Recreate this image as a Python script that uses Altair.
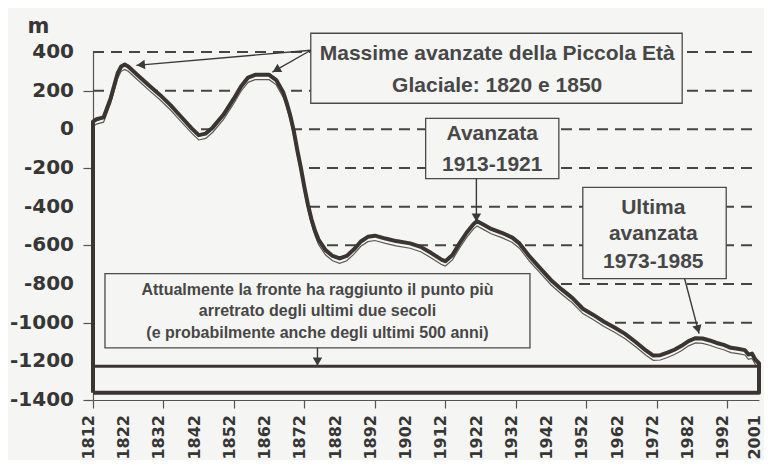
import math
import altair as alt
import pandas as pd

# ---- data ----
years = [1812, 1813, 1815, 1817, 1819, 1820, 1821, 1822, 1825, 1828, 1831, 1834,
         1837, 1840, 1842, 1844, 1846, 1849, 1852, 1854, 1856, 1858, 1862, 1864,
         1866, 1867, 1868, 1869, 1870, 1871, 1872, 1873, 1874, 1875, 1876, 1878,
         1880, 1882, 1884, 1886, 1888, 1890, 1892, 1895, 1898, 1902, 1905, 1908,
         1911, 1912, 1914, 1916, 1918, 1920, 1921, 1923, 1925, 1928, 1931, 1933,
         1936, 1939, 1942, 1945, 1948, 1951, 1954, 1957, 1960, 1963, 1966, 1969,
         1971, 1973, 1975, 1977, 1979, 1981, 1983, 1985, 1987, 1989, 1991, 1993,
         1995, 1997, 1998, 1999, 2000, 2001]
front = [40, 52, 62, 160, 290, 325, 335, 325, 275, 225, 178, 125,
         65, 5, -30, -22, 10, 75, 160, 222, 268, 282, 282, 255,
         190, 135, 70, -10, -110, -200, -300, -390, -465, -525, -570, -625,
         -655, -668, -655, -622, -580, -556, -550, -565, -578, -590, -608, -640,
         -675, -682, -650, -590, -535, -490, -475, -495, -515, -535, -560, -590,
         -660, -720, -780, -828, -872, -928, -960, -995, -1025, -1058, -1100, -1145,
         -1170, -1168, -1155, -1140, -1120, -1095, -1080, -1082, -1092, -1105, -1115, -1130,
         -1135, -1142, -1165, -1160, -1192, -1210]
assert len(years) == len(front)

current_front = -1225
bottom_edge = -1362
first_year, last_year = 1812, 2001

grid_levels = [400, 200, 0, -200, -400, -600, -800, -1000]
y_ticks = list(range(-1400, 401, 200))
x_ticks = list(range(1812, 2001, 5)) + [2001]
x_label_years = list(range(1812, 2001, 10)) + [2001]

box_x1 = [1873.8, 1906.4, 1951.0, 1815.4]
box_x2 = [1979.2, 1944.2, 1991.7, 1936.0]
box_y1 = [497, 57, -300, -746]
box_y2 = [135, -255, -772, -1130]

label_text = ["Massime avanzate della Piccola Età", "Glaciale: 1820 e 1850",
              "Avanzata", "1913-1921",
              "Ultima", "avanzata", "1973-1985",
              "Attualmente la fronte ha raggiunto il punto più",
              "arretrato degli ultimi due secoli",
              "(e probabilmente anche degli ultimi 500 anni)"]
label_x = [1926.7, 1926.7, 1925.3, 1925.3, 1971.0, 1971.0, 1971.0, 1875.7, 1875.7, 1875.7]
label_y = [390, 222, -23, -187, -407, -541, -686, -829, -938, -1052]
label_size = [21, 21, 21, 21, 21, 21, 21, 16, 16, 16]

arrow_x1 = [1873.8, 1873.8, 1920.8, 1979.9, 1875.7]
arrow_y1 = [409, 409, -255, -773, -1130]
arrow_x2 = [1824.3, 1862.9, 1920.8, 1984.0, 1875.7]
arrow_y2 = [331, 296, -480, -1057, -1225]

# ---- tables ----
W, H = 666, 348
px_year = W / (last_year - first_year)
px_m = H / 1800

curve = pd.DataFrame({"year": years, "value": front})
curve["base"] = current_front
curve["shadow"] = curve["value"] - 25

outline_years = [first_year] + years + [last_year, first_year]
outline_vals = [bottom_edge] + front + [bottom_edge, bottom_edge]
outline = pd.DataFrame({"year": outline_years, "value": outline_vals,
                        "order": list(range(len(outline_years)))})

grid = pd.DataFrame({"value": grid_levels, "year": first_year, "year2": last_year})
front_rule = pd.DataFrame({"value": [current_front], "year": [first_year], "year2": [last_year]})
boxes = pd.DataFrame({"year": box_x1, "year2": box_x2, "value": box_y1, "value2": box_y2})
labels = pd.DataFrame({"year": label_x, "value": label_y, "text": label_text, "size": label_size})
arrows = pd.DataFrame({"year": arrow_x1, "value": arrow_y1, "year2": arrow_x2, "value2": arrow_y2})
ylab = pd.DataFrame({"value": y_ticks, "text": [str(v) for v in y_ticks]})
xlab = pd.DataFrame({"year": x_label_years, "text": [str(v) for v in x_label_years]})

heads = []
for a, b, c, d in zip(arrow_x1, arrow_y1, arrow_x2, arrow_y2):
    dx = (c - a) * px_year
    dy = -(d - b) * px_m
    n = math.hypot(dx, dy)
    ux, uy = dx / n, dy / n
    ang = math.degrees(math.atan2(dx, -dy)) % 360
    heads.append({"year": c - ux * 4.5 / px_year, "value": d + uy * 4.5 / px_m, "ang": ang})
heads = pd.DataFrame(heads)

BG = "#f5f5f3"
INK = "#3b3431"
TXT = "#474747"
LAB = "#363636"

xs = alt.Scale(domain=[first_year, last_year], nice=False, zero=False)
ys = alt.Scale(domain=[-1400, 400], nice=False, zero=False)

x_axis = alt.Axis(values=x_ticks, title=None, labels=False,
                  tickSize=8, tickColor="#555555", tickWidth=1.2,
                  domainColor="#555555", domainWidth=1.2, grid=False)
y_axis = alt.Axis(values=y_ticks, title="m", titleAngle=0, titleX=-55, titleY=-20,
                  titleAlign="center", titleBaseline="alphabetic", titleFont="DejaVu Sans",
                  titleFontWeight="bold", titleFontSize=21, titleColor=LAB,
                  labels=False, tickSize=10, tickColor="#555555", tickWidth=1.2,
                  domainColor="#555555", domainWidth=1.2, grid=False)

grid_layer = alt.Chart(grid).mark_rule(color="#454545", strokeWidth=2, strokeDash=[11, 7]).encode(
    x=alt.X("year:Q", scale=xs, axis=x_axis),
    x2="year2:Q",
    y=alt.Y("value:Q", scale=ys, axis=y_axis),
)

mask = alt.Chart(curve).mark_area(color=BG, opacity=1).encode(
    x="year:Q", y="value:Q", y2="base:Q")

box_layer = alt.Chart(boxes).mark_rect(fill=BG, stroke="#4a4a4a", strokeWidth=1.3).encode(
    x="year:Q", x2="year2:Q", y="value:Q", y2="value2:Q")

text_layer = alt.Chart(labels).mark_text(font="Liberation Sans", fontWeight="bold",
                                         color=TXT, baseline="middle", align="center").encode(
    x="year:Q", y="value:Q", text="text:N",
    size=alt.Size("size:Q", scale=None))

arrow_layer = alt.Chart(arrows).mark_rule(color="#3a3a3a", strokeWidth=1.4).encode(
    x="year:Q", x2="year2:Q", y="value:Q", y2="value2:Q")

head_layer = alt.Chart(heads).mark_point(shape="triangle-up", filled=True, color="#3a3a3a",
                                         size=90, opacity=1).encode(
    x="year:Q", y="value:Q", angle=alt.Angle("ang:Q", scale=None))

shadow_layer = alt.Chart(curve).mark_line(color="#5a5a5a", strokeWidth=1.2).encode(
    x="year:Q", y="shadow:Q")

outline_layer = alt.Chart(outline).mark_line(color=INK, strokeWidth=4, strokeJoin="round").encode(
    x="year:Q", y="value:Q", order="order:Q")

front_layer = alt.Chart(front_rule).mark_rule(color=INK, strokeWidth=3).encode(
    x="year:Q", x2="year2:Q", y="value:Q")

ylab_layer = alt.Chart(ylab).mark_text(font="DejaVu Sans", fontWeight="bold", fontSize=20,
                                       color=LAB, align="right", baseline="middle", dx=-19).encode(
    x=alt.datum(first_year), y="value:Q", text="text:N")

xlab_layer = alt.Chart(xlab).mark_text(font="DejaVu Sans", fontWeight="bold", fontSize=16,
                                       color=LAB, align="right", baseline="middle",
                                       angle=270, dx=-15, dy=-4).encode(
    x="year:Q", y=alt.datum(-1400), text="text:N")

chart = alt.layer(grid_layer, mask, box_layer, text_layer, arrow_layer, head_layer,
                  shadow_layer, outline_layer, front_layer, ylab_layer, xlab_layer).properties(
    width=W, height=H,
    autosize=alt.AutoSizeParams(type="none"),
    padding={"left": 85, "top": 44, "right": 5, "bottom": 60},
    background=BG,
).configure_view(stroke=None)

chart.save("out.html", embed_options={"renderer": "svg", "actions": False})
